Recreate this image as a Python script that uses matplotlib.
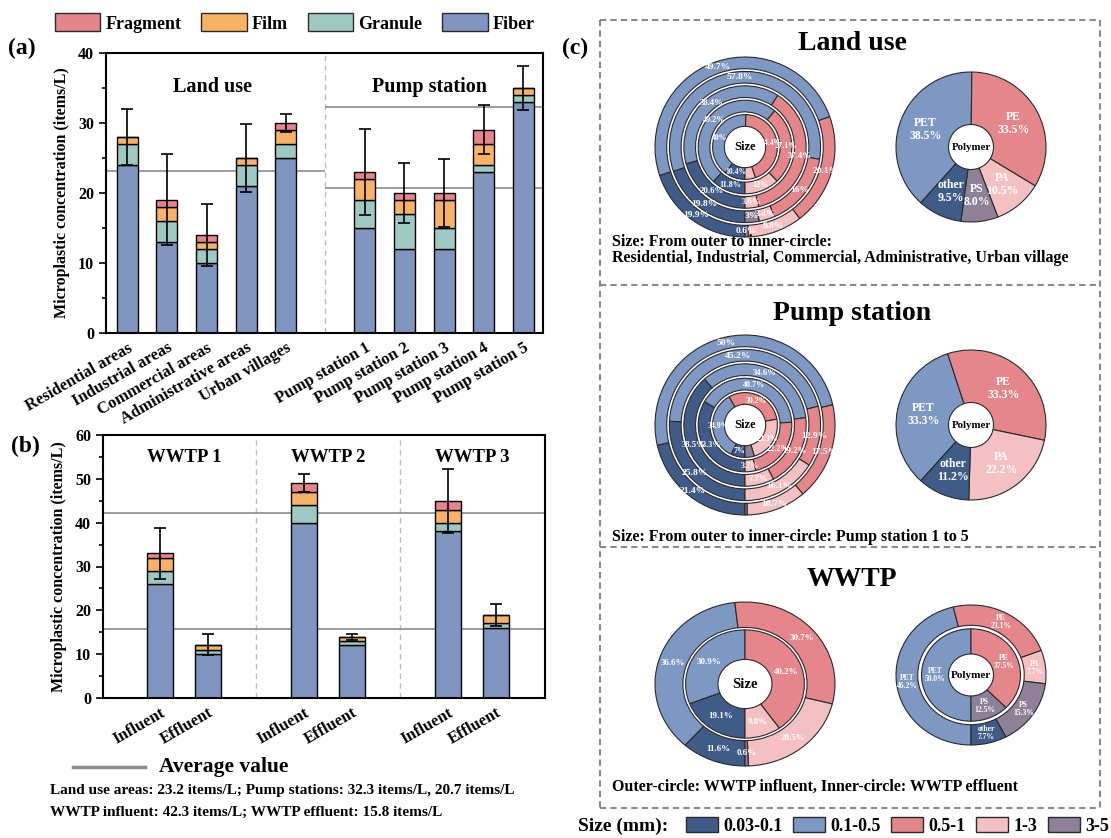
import matplotlib.pyplot as plt
import numpy as np
from matplotlib.patches import Patch
from matplotlib.lines import Line2D
from matplotlib.ticker import MultipleLocator
from matplotlib.transforms import ScaledTranslation

plt.rcParams['font.family'] = ['Liberation Serif', 'DejaVu Serif']
plt.rcParams['font.weight'] = 'bold'
plt.rcParams['axes.labelweight'] = 'bold'

# ---------------- panel (a): land use areas and pump stations ----------------
site_names = ['Residential areas', 'Industrial areas', 'Commercial areas', 'Administrative areas',
              'Urban villages', 'Pump station 1', 'Pump station 2', 'Pump station 3',
              'Pump station 4', 'Pump station 5']
site_fiber = [24, 13, 10, 21, 25, 15, 12, 12, 23, 33]
site_granule = [3, 3, 2, 3, 2, 4, 5, 3, 1, 1]
site_film = [1, 2, 1, 1, 2, 3, 2, 4, 3, 1]
site_fragment = [0, 1, 1, 0, 1, 1, 1, 1, 2, 0]
site_err = [4.0, 6.5, 4.4, 4.9, 1.3, 6.1, 4.3, 4.9, 3.5, 3.1]

# ---------------- panel (b): WWTP influent / effluent ----------------
wwtp_names = ['Influent', 'Effluent'] * 3
wwtp_fiber = [26, 10, 40, 12, 38, 16]
wwtp_granule = [3, 1, 4, 1, 2, 1]
wwtp_film = [3, 1.2, 3, 1, 3, 2]
wwtp_fragment = [1, 0, 2, 0, 2, 0]
wwtp_err = [5.8, 2.3, 2.0, 0.7, 7.3, 2.5]

avg_landuse = 23.2
avg_pump = [32.3, 20.7]
avg_influent = 42.3
avg_effluent = 15.8

# ---------------- panel (c): size and polymer composition (%) ----------------
size_classes = ['0.03-0.1', '0.1-0.5', '0.5-1', '1-3', '3-5']
# outer -> inner: Residential, Industrial, Commercial, Administrative, Urban village
landuse_size = [[19.9, 49.7, 20.1, 9.8, 0.6],
                [19.8, 57.8, 16.0, 3.4, 3.0],
                [20.6, 38.4, 37.4, 3.6, 0.0],
                [11.8, 49.2, 27.1, 12.0, 0.0],
                [10.4, 40.0, 44.4, 5.2, 0.0]]
# outer -> inner: pump station 1 to 5
pump_size = [[21.4, 50.0, 17.5, 10.7, 0.4],
             [25.8, 45.2, 12.9, 16.1, 0.0],
             [38.5, 34.6, 19.2, 7.7, 0.0],
             [33.3, 40.7, 22.2, 3.7, 0.0],
             [7.0, 34.9, 30.2, 23.3, 4.6]]
# slices printed without a percentage: (ring, slice)
landuse_unlabelled = [(4, 3)]
pump_unlabelled = [(0, 4), (4, 4)]
wwtp_influent_size = [11.6, 36.6, 30.7, 20.5, 0.6]
wwtp_effluent_size = [19.1, 30.9, 40.2, 9.8, 0.0]

polymers = ['PET', 'PE', 'PA', 'PS', 'other']
landuse_polymer = [38.5, 33.5, 10.5, 8.0, 9.5]
pump_polymer = [33.3, 33.3, 22.2, 0.0, 11.2]
wwtp_influent_polymer = [46.2, 23.1, 7.7, 15.3, 7.7]
wwtp_effluent_polymer = [50.0, 37.5, 0.0, 12.5, 0.0]

TYPE_COLORS = ['#8096C0', '#A0C8C3', '#F7B266', '#E3858B']   # fiber, granule, film, fragment
SIZE_COLORS = ['#3F5C89', '#7E98C4', '#E5868A', '#F4C0C2', '#8D8097']
POLY_COLORS = ['#7E98C4', '#E5868A', '#F4C0C2', '#8D8097', '#3F5C89']
EDGE = '#2a2a2a'
AVG_GREY = '#8c8c8c'

W, H = 1111, 838
fig = plt.figure(figsize=(W / 100, H / 100), dpi=100)


def px_axes(left, top, width, height):
    return fig.add_axes([left / W, 1 - (top + height) / H, width / W, height / H])


def fig_text(x, y, s, **kw):
    return fig.text(x / W, 1 - y / H, s, **kw)


def stacked(ax, x, layers, err):
    bottom = np.zeros(len(x))
    for vals, col in zip(layers, TYPE_COLORS):
        ax.bar(x, vals, 0.53, bottom=bottom, color=col, edgecolor='black', linewidth=1, zorder=2)
        bottom += np.asarray(vals, float)
    ax.errorbar(x, bottom, yerr=err, fmt='none', ecolor='black', elinewidth=1.2,
                capsize=4, capthick=1.2, zorder=3)


def style_bar_axes(ax, ymax, xpos, names, rot, dx):
    ax.set_ylim(0, ymax)
    ax.yaxis.set_major_locator(MultipleLocator(10))
    ax.yaxis.set_minor_locator(MultipleLocator(5))
    ax.tick_params(axis='y', which='major', direction='out', length=5, width=1.2, labelsize=11.5)
    ax.tick_params(axis='y', which='minor', direction='out', length=3, width=1.2)
    ax.tick_params(axis='x', length=0, pad=5)
    ax.set_xticks(xpos)
    ax.set_xticklabels(names, rotation=rot, ha='right', va='top', rotation_mode='anchor', fontsize=12)
    shift = ScaledTranslation(dx / 100, 0, fig.dpi_scale_trans)
    for lab in ax.get_xticklabels():
        lab.set_transform(lab.get_transform() + shift)
    for s in ax.spines.values():
        s.set_linewidth(1.5)
    ax.set_ylabel('Microplastic concentration (items/L)', fontsize=11.5, labelpad=6)


# ---- (a)
ax_a = px_axes(106, 53, 437, 280)
site_x = [0, 1, 2, 3, 4, 6, 7, 8, 9, 10]
stacked(ax_a, site_x, [site_fiber, site_granule, site_film, site_fragment], site_err)
ax_a.set_xlim(-0.54, 10.5)
ax_a.axvline(5, color='#bdbdbd', lw=1, ls=(0, (4, 3)), zorder=1)
ax_a.hlines(avg_landuse, -0.54, 5, color=AVG_GREY, lw=1.2, zorder=1)
ax_a.hlines(avg_pump, 5, 10.5, color=AVG_GREY, lw=1.2, zorder=1)
ax_a.text(2.14, 35.1, 'Land use', ha='center', va='center', fontsize=14.5)
ax_a.text(7.63, 35.1, 'Pump station', ha='center', va='center', fontsize=14.5)
style_bar_axes(ax_a, 40, site_x, site_names, 30, 0.18)

# ---- (b)
ax_b = px_axes(103, 435, 442, 263)
wwtp_x = [0, 1, 3, 4, 6, 7]
stacked(ax_b, wwtp_x, [wwtp_fiber, wwtp_granule, wwtp_film, wwtp_fragment], wwtp_err)
ax_b.set_xlim(-1.19, 8.02)
for xd in (2, 5):
    ax_b.axvline(xd, color='#bdbdbd', lw=1, ls=(0, (4, 3)), zorder=1)
ax_b.axhline(avg_influent, color=AVG_GREY, lw=1.2, zorder=1)
ax_b.axhline(avg_effluent, color=AVG_GREY, lw=1.2, zorder=1)
for i, xc in enumerate((0.5, 3.5, 6.5)):
    ax_b.text(xc, 54.8, f'WWTP {i + 1}', ha='center', va='center', fontsize=13.5)
style_bar_axes(ax_b, 60, wwtp_x, wwtp_names, 30, 0.15)

# type legend on top
type_handles = [Patch(facecolor=c, edgecolor=EDGE, linewidth=1) for c in TYPE_COLORS[::-1]]
fig.legend(type_handles, ['Fragment', 'Film', 'Granule', 'Fiber'], loc='center left',
           bbox_to_anchor=(55 / W, 1 - 23 / H), ncol=4, frameon=False, borderpad=0,
           borderaxespad=0, handlelength=2.5, handleheight=1.15, handletextpad=0.3,
           columnspacing=1.1, prop=dict(weight='bold', size=13))

fig_text(22, 48, '(a)', ha='center', va='center', fontsize=17)
fig_text(25, 446, '(b)', ha='center', va='center', fontsize=17)
fig_text(575, 48, '(c)', ha='center', va='center', fontsize=17)

# average value key and notes
fig.add_artist(Line2D([73 / W, 145 / W], [1 - 767 / H] * 2, color=AVG_GREY, lw=2.5))
fig_text(159, 767, 'Average value', ha='left', va='center', fontsize=15.5)
fig_text(50, 790, 'Land use areas: 23.2 items/L; Pump stations: 32.3 items/L, 20.7 items/L',
         ha='left', va='center', fontsize=11)
fig_text(50, 812, 'WWTP influent: 42.3 items/L; WWTP effluent: 15.8 items/L',
         ha='left', va='center', fontsize=11)

# ---------------- panel (c) ----------------
def dashed(x0, y0, x1, y1):
    fig.add_artist(Line2D([x0 / W, x1 / W], [1 - y0 / H, 1 - y1 / H], color='#8a8a8a',
                          lw=1.5, ls=(0, (3, 2))))


for yy in (20, 285, 547, 808):
    dashed(600, yy, 1100, yy)
dashed(600, 20, 600, 808)
dashed(1100, 20, 1100, 808)


def pie_axes(cx, cy, rx, ry=None):
    ry = rx if ry is None else ry
    pad = 1.03
    return px_axes(cx - rx * pad, cy - ry * pad, 2 * rx * pad, 2 * ry * pad)


def ring(ax, values, colors, radius, width, start, labels, fontsize):
    keep = [i for i, v in enumerate(values) if v > 0]
    wedges, _ = ax.pie([values[i] for i in keep], radius=radius,
                       colors=[colors[i] for i in keep], startangle=start, counterclock=False,
                       wedgeprops=dict(width=width, edgecolor=EDGE, linewidth=0.8))
    r = radius - width / 2
    for w, i in zip(wedges, keep):
        if not labels[i]:
            continue
        a = np.deg2rad((w.theta1 + w.theta2) / 2)
        ax.text(r * np.cos(a), r * np.sin(a), labels[i], color='white', ha='center',
                va='center', fontsize=fontsize, linespacing=1.1)


def finish_pie(ax, centre, size):
    ax.set_xlim(-1.03, 1.03)
    ax.set_ylim(-1.03, 1.03)
    ax.set_aspect('auto')
    ax.axis('off')
    ax.text(0, 0, centre, ha='center', va='center', fontsize=size)


def size_labels(vals, hide=()):
    return [f'{v:g}%' if v > 0 and i not in hide else '' for i, v in enumerate(vals)]


def poly_labels(vals):
    return [f'{n}\n{v:.1f}%' if v > 0 else '' for n, v in zip(polymers, vals)]


ring_outer = [1.0, 0.84, 0.68, 0.52, 0.36]
ring_font = [6.8, 6.8, 6.3, 5.9, 5.6]

for title, ty, rings, unlabelled, cy, poly, note in [
        ('Land use', 43, landuse_size, landuse_unlabelled, 147, landuse_polymer,
         'Size: From outer to inner-circle:\nResidential, Industrial, Commercial, Administrative, Urban village'),
        ('Pump station', 313, pump_size, pump_unlabelled, 425, pump_polymer,
         'Size: From outer to inner-circle: Pump station 1 to 5')]:
    fig_text(852, ty, title, ha='center', va='center', fontsize=20)
    ax = pie_axes(745, cy, 90)
    for k, (vals, r) in enumerate(zip(rings, ring_outer)):
        hide = [s for (rr, s) in unlabelled if rr == k]
        ring(ax, vals, SIZE_COLORS, r, 0.13, 270, size_labels(vals, hide), ring_font[k])
    finish_pie(ax, 'Size', 9)
    ax = pie_axes(971, cy, 75)
    ring(ax, poly, POLY_COLORS, 1.0, 0.7, 228, poly_labels(poly), 8.5)
    finish_pie(ax, 'Polymer', 7.8)
    one_line = '\n' not in note
    fig_text(612, ty + 207 + (17 if one_line else 0), note, ha='left', va='center',
             fontsize=11.5, linespacing=1.05)

fig_text(852, 579, 'WWTP', ha='center', va='center', fontsize=20)
ax = pie_axes(745, 684, 90, 82)
ring(ax, wwtp_influent_size, SIZE_COLORS, 1.0, 0.31, 270, size_labels(wwtp_influent_size), 6.5)
ring(ax, wwtp_effluent_size, SIZE_COLORS, 0.66, 0.36, 270, size_labels(wwtp_effluent_size), 6.5)
finish_pie(ax, 'Size', 10.5)
ax = pie_axes(971, 675, 75, 70)
ring(ax, wwtp_influent_polymer, POLY_COLORS, 1.0, 0.29, 270, poly_labels(wwtp_influent_polymer), 5.5)
ring(ax, wwtp_effluent_polymer, POLY_COLORS, 0.66, 0.36, 270, poly_labels(wwtp_effluent_polymer), 5.5)
finish_pie(ax, 'Polymer', 8)
fig_text(612, 787, 'Outer-circle: WWTP influent, Inner-circle: WWTP effluent', ha='left',
         va='center', fontsize=11.5)

# size legend along the bottom
fig_text(578, 826, 'Size (mm):', ha='left', va='center', fontsize=14)
size_handles = [Patch(facecolor=c, edgecolor=EDGE, linewidth=1) for c in SIZE_COLORS]
fig.legend(size_handles, size_classes, loc='center left', bbox_to_anchor=(686 / W, 1 - 826 / H),
           ncol=5, frameon=False, borderpad=0, borderaxespad=0, handlelength=1.75,
           handleheight=0.85, handletextpad=0.3, columnspacing=0.6,
           prop=dict(weight='bold', size=13))

fig.savefig('out.png', dpi=100)
